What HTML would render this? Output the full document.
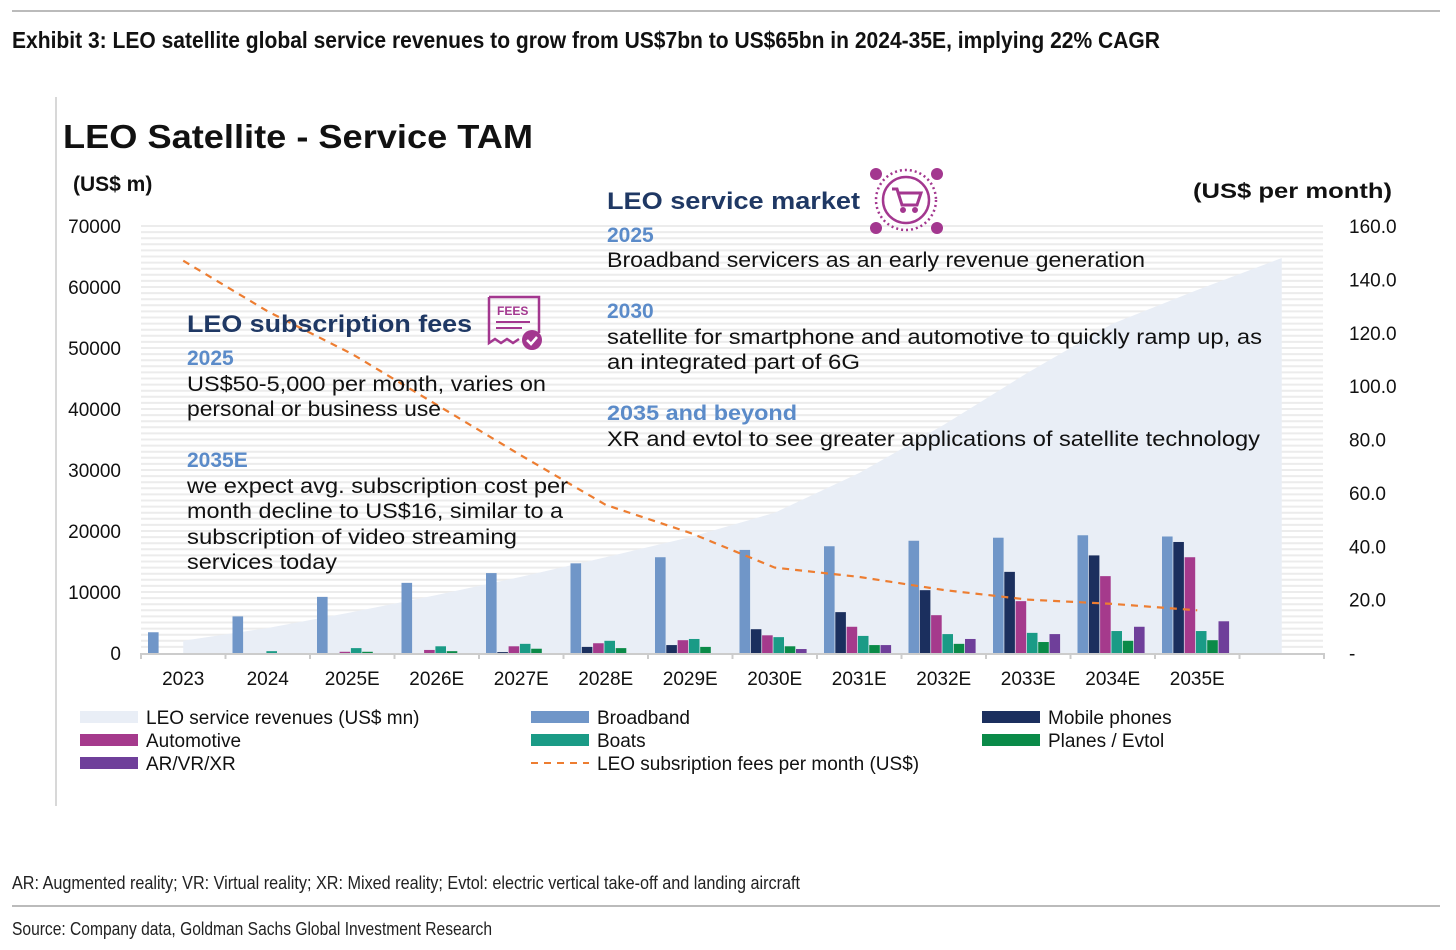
<!DOCTYPE html>
<html><head><meta charset="utf-8"><style>
body{margin:0;background:#fff;width:1456px;height:950px;overflow:hidden;font-family:"Liberation Sans",sans-serif}
svg{position:absolute;left:0;top:0}
</style></head><body>
<svg width="1456" height="950" viewBox="0 0 1456 950">
<line x1="12" y1="11" x2="1440" y2="11" stroke="#777" stroke-width="1"/>
<text x="12" y="48" font-family="Liberation Sans Narrow, Liberation Sans, sans-serif" font-weight="bold" font-size="23" fill="#111" textLength="1148" lengthAdjust="spacingAndGlyphs">Exhibit 3: LEO satellite global service revenues to grow from US$7bn to US$65bn in 2024-35E, implying 22% CAGR</text>
<line x1="56" y1="97" x2="56" y2="806" stroke="#ccc" stroke-width="1.5"/>
<g id="grid"></g>
<g id="area"></g>
<g id="bars"></g>
<g id="line"></g>
<g id="axes"></g>
<text x="63" y="148" font-weight="bold" font-size="33" fill="#111" textLength="470" lengthAdjust="spacingAndGlyphs">LEO Satellite - Service TAM</text>
<text x="73" y="191" font-weight="bold" font-size="21" fill="#111">(US$ m)</text>
<text x="1193" y="198" font-weight="bold" font-size="21" fill="#111" textLength="199" lengthAdjust="spacingAndGlyphs">(US$ per month)</text>
<g font-size="21" fill="#111">
<text x="607" y="209" font-weight="bold" font-size="24" fill="#1f3864" textLength="253" lengthAdjust="spacingAndGlyphs">LEO service market</text>
<text x="607" y="242" font-weight="bold" fill="#5b8bc9">2025</text>
<text x="607" y="267" textLength="538" lengthAdjust="spacingAndGlyphs">Broadband servicers as an early revenue generation</text>
<text x="607" y="318" font-weight="bold" fill="#5b8bc9">2030</text>
<text x="607" y="344" textLength="655" lengthAdjust="spacingAndGlyphs">satellite for smartphone and automotive to quickly ramp up, as</text>
<text x="607" y="369" textLength="253" lengthAdjust="spacingAndGlyphs">an integrated part of 6G</text>
<text x="607" y="420" font-weight="bold" fill="#5b8bc9" textLength="190" lengthAdjust="spacingAndGlyphs">2035 and beyond</text>
<text x="607" y="446" textLength="653" lengthAdjust="spacingAndGlyphs">XR and evtol to see greater applications of satellite technology</text>
</g>
<g font-size="21" fill="#111">
<text x="187" y="332" font-weight="bold" font-size="24" fill="#1f3864" textLength="285" lengthAdjust="spacingAndGlyphs">LEO subscription fees</text>
<text x="187" y="365" font-weight="bold" fill="#5b8bc9">2025</text>
<text x="187" y="391" textLength="359" lengthAdjust="spacingAndGlyphs">US$50-5,000 per month, varies on</text>
<text x="187" y="416" textLength="254" lengthAdjust="spacingAndGlyphs">personal or business use</text>
<text x="187" y="467" font-weight="bold" fill="#5b8bc9">2035E</text>
<text x="187" y="493" textLength="381" lengthAdjust="spacingAndGlyphs">we expect avg. subscription cost per</text>
<text x="187" y="518" textLength="376" lengthAdjust="spacingAndGlyphs">month decline to US$16, similar to a</text>
<text x="187" y="544" textLength="330" lengthAdjust="spacingAndGlyphs">subscription of video streaming</text>
<text x="187" y="569" textLength="150" lengthAdjust="spacingAndGlyphs">services today</text>
</g>
<g stroke="#a3378f" fill="none">
<circle cx="906" cy="200" r="30" stroke-width="2.5" stroke-dasharray="2 3"/>
<circle cx="906" cy="200" r="23" stroke-width="2.5"/>
<path d="M892 189 h5 l5 16 h15 l4 -12 h-22" stroke-width="3"/>
<circle cx="903" cy="210" r="2.5" fill="#a3378f"/><circle cx="915" cy="210" r="2.5" fill="#a3378f"/>
<g fill="#a3378f" stroke="none"><circle cx="876" cy="174" r="6"/><circle cx="937" cy="174" r="6"/><circle cx="876" cy="228" r="6"/><circle cx="937" cy="228" r="6"/></g>
</g>
<g>
<path d="M489 297 h50 v36 M489 297 v46 l6 -4 l6 4 l6 -4 l6 4 l6 -4" stroke="#a3378f" stroke-width="2.5" fill="none"/>
<text x="497" y="315" font-size="12" font-weight="bold" fill="#a3378f">FEES</text>
<line x1="496" y1="322" x2="530" y2="322" stroke="#a3378f" stroke-width="2"/>
<line x1="496" y1="328" x2="522" y2="328" stroke="#a3378f" stroke-width="2"/>
<circle cx="532" cy="340" r="10" fill="#a3378f"/>
<path d="M527 340 l4 4 l6 -7" stroke="#fff" stroke-width="2.5" fill="none"/>
</g>
<g id="legend" font-size="19" fill="#111"></g>
<text x="12" y="889" font-family="Liberation Sans Narrow, Liberation Sans, sans-serif" font-size="18" fill="#222" textLength="788" lengthAdjust="spacingAndGlyphs">AR: Augmented reality; VR: Virtual reality; XR: Mixed reality; Evtol: electric vertical take-off and landing aircraft</text>
<line x1="12" y1="906" x2="1440" y2="906" stroke="#777" stroke-width="1"/>
<text x="12" y="935" font-family="Liberation Sans Narrow, Liberation Sans, sans-serif" font-size="18" fill="#222" textLength="480" lengthAdjust="spacingAndGlyphs">Source: Company data, Goldman Sachs Global Investment Research</text>
</svg>
<script>
const categories=["2023","2024","2025E","2026E","2027E","2028E","2029E","2030E","2031E","2032E","2033E","2034E","2035E"];
const revenue=[2000,4100,6700,9500,12500,15700,19000,23000,29500,37400,46000,54000,59500,64750];
const broadband=[3400,6000,9200,11500,13100,14700,15700,16900,17500,18400,18900,19300,19100];
const mobile=[0,0,0,0,150,1000,1300,3900,6700,10300,13300,16000,18200];
const automotive=[0,0,200,500,1100,1600,2100,2900,4300,6200,8500,12600,15700];
const boats=[0,300,800,1100,1500,2000,2300,2600,2800,3100,3300,3600,3600];
const planes=[0,0,200,300,700,800,1000,1100,1300,1500,1800,2000,2100];
const arvr=[0,0,0,0,0,0,0,650,1300,2300,3100,4300,5200];
const fees=[147,128,112,93,74,55.5,45,32,28.5,23.6,20,18.4,16];
const leftTicks=["0","10000","20000","30000","40000","50000","60000","70000"];
const rightTicks=["-","20.0","40.0","60.0","80.0","100.0","120.0","140.0","160.0"];
const NS="http://www.w3.org/2000/svg";
const x0=141,step=84.5,base=653,yTop=226;
const yL=v=>base-v/70000*(base-yTop);
const yR=v=>base-v/160*(base-yTop);
const xC=i=>x0+step*(i+0.5);
function mk(p,t,a){const e=document.createElementNS(NS,t);for(const k in a)e.setAttribute(k,a[k]);p.appendChild(e);return e;}
const grid=document.getElementById('grid');
for(let v=1000;v<=70000;v+=1000){const g=mk(grid,'line',{x1:x0,x2:1323,y1:yL(v),y2:yL(v),stroke:'#ececec','stroke-width':2});

}
const ar=document.getElementById('area');
let d=`M${xC(0)} ${base}`;revenue.forEach((v,i)=>d+=` L${xC(i)} ${yL(v)}`);d+=` L${xC(revenue.length-1)} ${base} Z`;
const ap=mk(ar,'path',{d:d,fill:'#e9eef6'});


const series=[[broadband,'#7096c8','broadband'],[mobile,'#1b2f5e','mobile'],[automotive,'#a53a8c','automotive'],[boats,'#1a9b86','boats'],[planes,'#0a8a48','planes'],[arvr,'#6f3f9a','arvr']];
const bg=document.getElementById('bars');
categories.forEach((c,i)=>{series.forEach((s,j)=>{const v=s[0][i];if(!v)return;
const r=mk(bg,'rect',{x:x0+step*i+7+j*11.3,y:yL(v),width:10.6,height:base-yL(v),fill:s[1]});

});});
const lg=document.getElementById('line');
const pts=fees.map((v,i)=>xC(i)+','+yR(v)).join(' ');
const pl=mk(lg,'polyline',{points:pts,fill:'none',stroke:'#ed7d31','stroke-width':2.2,'stroke-dasharray':'7 6'});


const ax=document.getElementById('axes');
const bl=mk(ax,'line',{x1:x0,x2:1323,y1:base+1,y2:base+1,stroke:'#ccc','stroke-width':2});


for(let k=0;k<=14;k++){const t=mk(ax,'line',{x1:x0+step*k,x2:x0+step*k,y1:base,y2:base+6,stroke:'#ccc','stroke-width':2});

}
categories.forEach((c,i)=>{const t=mk(ax,'text',{x:xC(i),y:685,'text-anchor':'middle','font-size':19,fill:'#111'});t.textContent=c;

});
leftTicks.forEach((s,i)=>{const t=mk(ax,'text',{x:121,y:yL(i*10000)+7,'text-anchor':'end','font-size':19,fill:'#111'});t.textContent=s;

});
rightTicks.forEach((s,i)=>{const t=mk(ax,'text',{x:1349,y:yR(i*20)+7,'font-size':19,fill:'#111'});t.textContent=s;

});
const legendItems=[["LEO service revenues (US$ mn)","#e9eef6",80,717,0],["Broadband","#7096c8",531,717,0],["Mobile phones","#1b2f5e",982,717,0],["Automotive","#a53a8c",80,740,0],["Boats","#1a9b86",531,740,0],["Planes / Evtol","#0a8a48",982,740,0],["AR/VR/XR","#6f3f9a",80,763,0],["LEO subsription fees per month (US$)","#ed7d31",531,763,1]];
const L=document.getElementById('legend');
legendItems.forEach(it=>{
let sw;
if(it[4]){sw=mk(L,'line',{x1:it[2],x2:it[2]+58,y1:it[3],y2:it[3],stroke:it[1],'stroke-width':2,'stroke-dasharray':'7 6'});}
else{sw=mk(L,'rect',{x:it[2],y:it[3]-6,width:58,height:12,fill:it[1]});}


const t=mk(L,'text',{x:it[2]+66,y:it[3]+7});t.textContent=it[0];

});
</script>
</body></html>
